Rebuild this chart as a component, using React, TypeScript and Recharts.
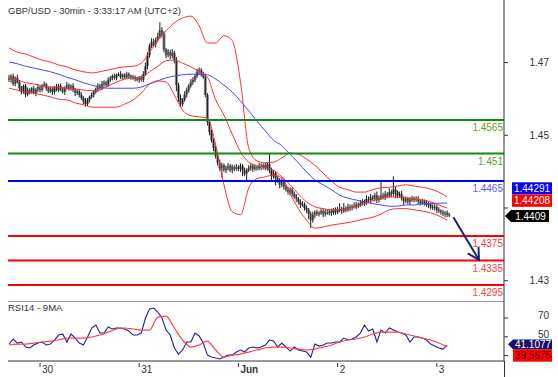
import React from 'react';
import { ComposedChart, Bar, Line, XAxis, YAxis, ReferenceLine } from 'recharts';

// ---------- DATA ----------
const firstOpen = 1.4634;
const closes = [
  1.4631, 1.4637, 1.4624, 1.4634, 1.4627, 1.4617, 1.4611, 1.4621, 1.4607, 1.4614,
  1.4611, 1.4617, 1.4609, 1.4614, 1.4619, 1.4614, 1.4621, 1.4624, 1.4617, 1.4612,
  1.4616, 1.4611, 1.4619, 1.4614, 1.4621, 1.4616, 1.4611, 1.4617, 1.4622, 1.4617,
  1.4621, 1.4614, 1.4609, 1.4612, 1.4606, 1.4601, 1.4596, 1.4591, 1.4598, 1.4603,
  1.4606, 1.4611, 1.4616, 1.4621, 1.4617, 1.4624, 1.4627, 1.4622, 1.4631, 1.4634,
  1.4637, 1.4634, 1.4639, 1.4640, 1.4635, 1.4639, 1.4635, 1.4640, 1.4637, 1.4634,
  1.4635, 1.4632, 1.4631, 1.4634, 1.4631, 1.4640, 1.4653, 1.4671, 1.4686, 1.4693,
  1.4689, 1.4696, 1.4702, 1.4712, 1.4706, 1.4680, 1.4671, 1.4676, 1.4670, 1.4675,
  1.4663, 1.4622, 1.4601, 1.4591, 1.4598, 1.4607, 1.4614, 1.4621, 1.4627, 1.4631,
  1.4637, 1.4644, 1.4647, 1.4640, 1.4635, 1.4606, 1.4562, 1.4545, 1.4532, 1.4519,
  1.4506, 1.4495, 1.4486, 1.4491, 1.4483, 1.4486, 1.4490, 1.4483, 1.4488, 1.4485,
  1.4488, 1.4485, 1.4490, 1.4483, 1.4477, 1.4483, 1.4486, 1.4490, 1.4485, 1.4488,
  1.4486, 1.4490, 1.4488, 1.4491, 1.4486, 1.4493, 1.4483, 1.4473, 1.4478, 1.4470,
  1.4467, 1.4459, 1.4464, 1.4456, 1.4451, 1.4447, 1.4451, 1.4444, 1.4439, 1.4436,
  1.4431, 1.4426, 1.4427, 1.4421, 1.4418, 1.4411, 1.4401, 1.4410, 1.4414, 1.4411,
  1.4413, 1.4416, 1.4411, 1.4414, 1.4413, 1.4416, 1.4413, 1.4418, 1.4414, 1.4418,
  1.4419, 1.4416, 1.4421, 1.4418, 1.4423, 1.4421, 1.4424, 1.4423, 1.4427, 1.4426,
  1.4429, 1.4432, 1.4429, 1.4436, 1.4434, 1.4439, 1.4436, 1.4442, 1.4434, 1.4437,
  1.4442, 1.4439, 1.4444, 1.4441, 1.4447, 1.4444, 1.4451, 1.4447, 1.4441, 1.4444,
  1.4437, 1.4432, 1.4436, 1.4431, 1.4434, 1.4437, 1.4434, 1.4436, 1.4432, 1.4429,
  1.4432, 1.4429, 1.4426, 1.4427, 1.4423, 1.4421, 1.4423, 1.4418, 1.4416, 1.4414,
  1.4411, 1.4413, 1.4410, 1.4409,
];
// wick lengths above / below the body, in pips
const upWick = [
  5, 3, 4, 2, 5, 3, 4, 2, 3, 4,
  3, 2, 4, 3, 5, 2, 3, 4, 2, 3,
  4, 3, 2, 5, 3, 4, 2, 3, 5, 3,
  2, 4, 3, 3, 2, 4, 3, 5, 3, 2,
  4, 3, 2, 4, 3, 5, 3, 2, 4, 3,
  3, 4, 2, 3, 5, 2, 3, 4, 3, 2,
  4, 3, 2, 3, 4, 5, 6, 5, 4, 6,
  5, 4, 6, 13, 5, 4, 3, 5, 4, 6,
  3, 5, 4, 6, 3, 5, 4, 3, 5, 4,
  3, 5, 4, 3, 4, 6, 3, 5, 4, 3,
  4, 3, 5, 4, 3, 4, 5, 3, 4, 3,
  5, 3, 4, 3, 4, 3, 5, 4, 3, 4,
  3, 5, 4, 3, 4, 3, 18, 4, 5, 3,
  4, 3, 5, 4, 3, 5, 4, 3, 4, 5,
  3, 4, 5, 3, 4, 3, 4, 5, 3, 4,
  3, 4, 3, 5, 4, 3, 4, 3, 4, 5,
  10, 4, 8, 3, 5, 4, 3, 6, 4, 3,
  5, 4, 3, 6, 4, 5, 3, 4, 6, 4,
  25, 4, 5, 3, 6, 4, 22, 5, 3, 4,
  5, 3, 4, 3, 5, 4, 3, 4, 5, 3,
  4, 3, 5, 4, 3, 4, 5, 3, 4, 3,
  4, 3, 4, 3,
];
const downWick = [
  4, 5, 3, 4, 2, 5, 4, 3, 5, 3,
  4, 3, 2, 5, 3, 4, 3, 2, 4, 3,
  3, 5, 4, 2, 3, 4, 3, 5, 2, 4,
  4, 3, 5, 3, 4, 3, 5, 4, 3, 4,
  3, 4, 3, 5, 3, 2, 4, 3, 3, 4,
  4, 3, 4, 2, 3, 4, 3, 2, 4, 3,
  3, 4, 3, 5, 3, 4, 3, 5, 4, 3,
  4, 5, 3, 4, 6, 4, 5, 3, 6, 4,
  5, 10, 6, 5, 4, 3, 5, 4, 3, 4,
  4, 3, 5, 4, 3, 4, 6, 5, 4, 5,
  4, 5, 4, 15, 3, 5, 4, 3, 5, 4,
  3, 4, 5, 10, 4, 13, 3, 4, 5, 3,
  4, 3, 5, 4, 3, 4, 5, 8, 4, 12,
  5, 6, 4, 5, 3, 4, 5, 4, 3, 5,
  4, 5, 3, 4, 5, 8, 13, 4, 5, 3,
  4, 3, 5, 4, 3, 4, 5, 3, 4, 3,
  4, 5, 3, 4, 3, 5, 4, 3, 4, 5,
  3, 4, 5, 3, 4, 5, 3, 4, 5, 4,
  3, 4, 5, 4, 3, 5, 4, 10, 4, 3,
  4, 6, 3, 4, 5, 3, 4, 3, 5, 4,
  3, 4, 3, 5, 4, 3, 4, 5, 3, 4,
  3, 5, 4, 3,
];

// indicator lines, one value every 4 bars
const bandStep = 4;
const bbUpper = [
  1.4683, 1.4676, 1.4673, 1.4668, 1.4663, 1.4660, 1.4655, 1.4652, 1.4647, 1.4644,
  1.4642, 1.4644, 1.4647, 1.4650, 1.4652, 1.4653, 1.4658, 1.4676, 1.4696, 1.4711,
  1.4724, 1.4732, 1.4735, 1.4719, 1.4691, 1.4691, 1.4703, 1.4695, 1.4627, 1.4519,
  1.4498, 1.4495, 1.4496, 1.4503, 1.4511, 1.4509, 1.4501, 1.4491, 1.4478, 1.4465,
  1.4455, 1.4451, 1.4447, 1.4447, 1.4451, 1.4454, 1.4455, 1.4457, 1.4459, 1.4457,
  1.4455, 1.4452, 1.4447, 1.4439,
];
const bbMiddle = [
  1.4634, 1.4631, 1.4626, 1.4624, 1.4621, 1.4619, 1.4619, 1.4617, 1.4616, 1.4614,
  1.4613, 1.4614, 1.4621, 1.4627, 1.4632, 1.4634, 1.4635, 1.4644, 1.4653, 1.4662,
  1.4663, 1.4658, 1.4652, 1.4644, 1.4635, 1.4598, 1.4573, 1.4542, 1.4513, 1.4496,
  1.4490, 1.4487, 1.4483, 1.4472, 1.4459, 1.4444, 1.4431, 1.4423, 1.4420, 1.4418,
  1.4418, 1.4420, 1.4423, 1.4428, 1.4433, 1.4437, 1.4439, 1.4439, 1.4437, 1.4436,
  1.4434, 1.4431, 1.4426, 1.4421,
];
const bbLower = [
  1.4617, 1.4614, 1.4611, 1.4609, 1.4606, 1.4603, 1.4599, 1.4598, 1.4593, 1.4590,
  1.4586, 1.4586, 1.4586, 1.4586, 1.4591, 1.4598, 1.4609, 1.4624, 1.4629, 1.4627,
  1.4606, 1.4581, 1.4572, 1.4570, 1.4568, 1.4524, 1.4459, 1.4415, 1.4410, 1.4454,
  1.4469, 1.4472, 1.4475, 1.4470, 1.4444, 1.4420, 1.4401, 1.4388, 1.4390, 1.4393,
  1.4395, 1.4397, 1.4400, 1.4403, 1.4406, 1.4411, 1.4418, 1.4420, 1.4420, 1.4418,
  1.4416, 1.4413, 1.4408, 1.4401,
];
const maBlue = [
  1.4660, 1.4657, 1.4653, 1.4650, 1.4647, 1.4644, 1.4640, 1.4635, 1.4631, 1.4626,
  1.4622, 1.4619, 1.4617, 1.4617, 1.4617, 1.4617, 1.4619, 1.4624, 1.4629, 1.4634,
  1.4637, 1.4639, 1.4640, 1.4640, 1.4639, 1.4632, 1.4622, 1.4611, 1.4596, 1.4580,
  1.4563, 1.4547, 1.4532, 1.4523, 1.4509, 1.4495, 1.4480, 1.4467, 1.4459, 1.4451,
  1.4442, 1.4437, 1.4434, 1.4431, 1.4428, 1.4426, 1.4424, 1.4424, 1.4426, 1.4426,
  1.4428, 1.4428, 1.4429, 1.4429,
];

// RSI(14) every 2 bars, its 9-period MA every 4 bars
const rsiStep = 2;
const rsi14 = [
  42.3, 47.7, 43.4, 44.5, 39.1, 38.1, 41.3, 43.4, 44.5, 41.3,
  42.3, 46.6, 51.9, 53.0, 44.5, 53.0, 48.7, 43.4, 41.3, 49.8,
  59.4, 62.6, 54.0, 54.0, 60.4, 58.3, 59.4, 59.4, 58.3, 56.2,
  51.9, 51.9, 54.0, 70.0, 79.6, 80.6, 76.4, 70.0, 57.2, 51.9,
  38.1, 31.7, 36.0, 44.5, 44.5, 54.0, 50.9, 43.4, 30.6, 28.5,
  27.4, 26.4, 28.5, 30.6, 30.6, 33.8, 36.0, 33.8, 38.1, 39.1,
  38.1, 39.1, 41.3, 46.6, 45.5, 39.1, 43.4, 39.1, 34.9, 39.1,
  36.0, 34.9, 33.8, 28.5, 42.3, 40.2, 41.3, 43.4, 43.4, 44.5,
  44.5, 48.7, 46.6, 47.7, 49.8, 54.0, 62.6, 56.2, 58.3, 44.5,
  57.2, 54.0, 59.4, 57.2, 55.1, 54.0, 51.9, 44.5, 49.8, 49.8,
  48.7, 46.6, 42.3, 40.2, 38.1, 37.0, 41.1077,
];
const rsiMaStep = 4;
const rsiMa9 = [
  41.3, 42.3, 42.3, 43.4, 44.5, 45.5, 46.6, 48.7, 48.7, 48.7,
  49.8, 51.9, 55.1, 58.3, 59.4, 58.3, 57.2, 57.2, 71.0, 72.0,
  59.4, 46.6, 39.1, 41.3, 45.5, 36.0, 28.5, 30.6, 31.7, 33.8,
  36.0, 38.1, 39.1, 39.1, 38.1, 37.0, 36.0, 37.0, 39.1, 41.3,
  44.5, 46.6, 47.7, 49.8, 53.0, 55.1, 55.1, 55.1, 53.0, 50.9,
  48.7, 46.6, 43.4, 39.5675,
];

// axes
const dayTicks = [15, 63, 111, 159, 207];
const dayLabels = ['30', '31', 'Jun', '2', '3'];
const priceTicks = [1.4302, 1.4421, 1.454, 1.4659];
const rsiTicks = [30, 50, 70];
// tick labels that sit behind the value tags (not visible in the original)
const coveredTicks = [1.4421, 30];
const priceDomain = [1.42688, 1.47614];
const rsiDomain = [24.3, 88.1];
const slotDomain = [-0.5, 239.5];

// levels
const levelValues = [1.4565, 1.451, 1.4465, 1.4375, 1.4335, 1.4295];
const levelKinds = ['res', 'res', 'pivot', 'sup', 'sup', 'sup'];
const levelLineColor: Record<string, string> = { res: '#108a10', pivot: '#0000ff', sup: '#ff0000' };
const levelTextColor: Record<string, string> = { res: '#5f9e25', pivot: '#5a5aff', sup: '#ff3c3c' };

// last values shown in tags
const lastClose = 1.4409;
const tagMa = '1.44291';
const tagMid = '1.44208';
const tagLast = '1.4409';
const rsiLast = 41.1077;
const tagRsi = '41.1077';
const tagRsiMa = '39.5675';

// forecast arrow
const arrowFrom = { x: 215, y: 1.4406 };
const arrowTo = { x: 227.4, y: 1.4336 };

// ---------- BUILD ----------
const PIP = 0.0001;
const candles = closes.map((c, i) => {
  const o = i === 0 ? firstOpen : closes[i - 1];
  return {
    i,
    open: o,
    close: c,
    high: Math.max(o, c) + upWick[i] * PIP,
    low: Math.min(o, c) - downWick[i] * PIP,
  };
});
const series = (arr: number[], step: number) => arr.map((v, k) => ({ i: k * step, v }));

const FONT = 'Liberation Sans, Arial, sans-serif';

const Candle = (props: any) => {
  const { x, y, width, height, payload } = props;
  if (!payload || x == null) return null;
  const { open, close, high, low } = payload;
  const span = high - low || 1e-9;
  const h = Math.abs(height);
  const top = height < 0 ? y + height : y;
  const py = (v: number) => top + ((high - v) / span) * h;
  const cx = x + width / 2;
  const bTop = py(Math.max(open, close));
  const bBot = py(Math.min(open, close));
  return (
    <g>
      <rect x={x - 0.5} y={bTop} width={width + 1} height={Math.max(1, bBot - bTop)} fill="#8e8e8e" />
      <line x1={cx} x2={cx} y1={top} y2={top + h} stroke="#1a1a1a" strokeWidth={1} />
    </g>
  );
};

const isCovered = (v: number) => coveredTicks.some((c) => Math.abs(c - v) < 1e-9);

const PriceTick = (props: any) => {
  const { x, y, payload } = props;
  if (isCovered(Number(payload.value))) return <g />;
  return (
    <text x={x + 41} y={y} dy={3.5} textAnchor="end" fontSize={10} fill="#333" fontFamily={FONT}>
      {Number(payload.value).toFixed(2)}
    </text>
  );
};

const RsiTick = (props: any) => {
  const { x, y, payload } = props;
  if (isCovered(Number(payload.value))) return <g />;
  return (
    <text x={x + 41} y={y} dy={0.8} textAnchor="end" fontSize={10} fill="#333" fontFamily={FONT}>
      {payload.value}
    </text>
  );
};

const DayTick = (props: any) => {
  const { x, y, payload } = props;
  const lbl = dayLabels[dayTicks.indexOf(payload.value)];
  return (
    <g>
      <line x1={x} x2={x} y1={y + 2} y2={y + 6} stroke="#333" />
      <text x={x + 2} y={y + 12} fontSize={10} fill="#333" fontFamily={FONT} fontWeight={lbl === 'Jun' ? 'bold' : 'normal'}>
        {lbl}
      </text>
    </g>
  );
};

const levelLabel = (value: number, color: string) => (p: any) => {
  const vb = p.viewBox || {};
  return (
    <text x={vb.x + vb.width - 1} y={vb.y + 11} textAnchor="end" fontSize={10} fill={color} fontFamily={FONT}>
      {String(value)}
    </text>
  );
};

const PriceTags = (p: any) => {
  const vb = p.viewBox || {};
  const ax = vb.x + vb.width;
  const yc = vb.y;
  return (
    <g fontFamily={FONT} fontSize={10}>
      <rect x={ax + 8} y={yc - 33} width={40} height={12} fill="#0000ff" />
      <text x={ax + 28} y={yc - 23.5} textAnchor="middle" fill="#fff">{tagMa}</text>
      <rect x={ax + 8} y={yc - 21} width={40} height={12.5} fill="#ff0000" />
      <text x={ax + 28} y={yc - 11.3} textAnchor="middle" fill="#fff">{tagMid}</text>
      <polygon
        points={`${ax + 1},${yc + 0.7} ${ax + 7},${yc - 5.3} ${ax + 45},${yc - 5.3} ${ax + 45},${yc + 6.7} ${ax + 7},${yc + 6.7}`}
        fill="#000"
      />
      <text x={ax + 26.5} y={yc + 4.3} textAnchor="middle" fill="#fff">{tagLast}</text>
    </g>
  );
};

const RsiTags = (p: any) => {
  const vb = p.viewBox || {};
  const ax = vb.x + vb.width;
  const yc = vb.y;
  return (
    <g fontFamily={FONT} fontSize={10}>
      <polygon
        points={`${ax + 4},${yc - 1} ${ax + 9},${yc - 5.6} ${ax + 48},${yc - 5.6} ${ax + 48},${yc + 4} ${ax + 9},${yc + 4}`}
        fill="#12126e"
      />
      <text x={ax + 29} y={yc + 2.8} textAnchor="middle" fill="#fff">{tagRsi}</text>
      <rect x={ax + 9} y={yc + 4} width={39} height={12.5} fill="#ff0000" />
      <text x={ax + 29} y={yc + 14} textAnchor="middle" fill="#5a0000">{tagRsiMa}</text>
    </g>
  );
};

const Arrow = (p: any) => {
  const { x1, y1, x2, y2 } = p;
  if (x1 == null) return null;
  const ang = Math.atan2(y2 - y1, x2 - x1);
  const L = 13;
  const a = 0.5;
  const bx1 = x2 - L * Math.cos(ang - a);
  const by1 = y2 - L * Math.sin(ang - a);
  const bx2 = x2 - L * Math.cos(ang + a);
  const by2 = y2 - L * Math.sin(ang + a);
  return (
    <g>
      <line x1={x1} y1={y1} x2={x2} y2={y2} stroke="#1b2470" strokeWidth={2} />
      <polyline points={`${bx1},${by1} ${x2},${y2} ${bx2},${by2}`} fill="none" stroke="#1b2470" strokeWidth={2} />
    </g>
  );
};

export default function App() {
  return (
    <div style={{ position: 'absolute', left: 0, top: 0, width: 558, height: 377, background: '#fff', overflow: 'hidden' }}>
      <div style={{ position: 'absolute', left: 0, top: 0 }}>
        <ComposedChart width={558} height={301} data={candles} margin={{ top: 0, right: 0, bottom: 0, left: 8 }}>
          <XAxis type="number" dataKey="i" domain={slotDomain} allowDataOverflow hide ticks={dayTicks} />
          <YAxis
            orientation="right"
            type="number"
            domain={priceDomain}
            allowDataOverflow
            ticks={priceTicks}
            interval={0}
            width={54}
            tickSize={4}
            tickMargin={0}
            tick={PriceTick}
            tickLine={{ stroke: '#333' }}
            axisLine={{ stroke: '#333' }}
          />
          <Bar dataKey={(d: any) => [d.low, d.high]} barSize={2} shape={Candle} isAnimationActive={false} />
          <Line data={series(maBlue, bandStep)} dataKey="v" type="monotone" stroke="#3c4cff" strokeWidth={1} dot={false} isAnimationActive={false} />
          <Line data={series(bbUpper, bandStep)} dataKey="v" type="monotone" stroke="#ff2f2f" strokeWidth={1} dot={false} isAnimationActive={false} />
          <Line data={series(bbMiddle, bandStep)} dataKey="v" type="monotone" stroke="#ff2f2f" strokeWidth={1} dot={false} isAnimationActive={false} />
          <Line data={series(bbLower, bandStep)} dataKey="v" type="monotone" stroke="#ff2f2f" strokeWidth={1} dot={false} isAnimationActive={false} />
          {levelValues.map((v, k) => (
            <ReferenceLine
              key={v}
              y={v}
              stroke={levelLineColor[levelKinds[k]]}
              strokeWidth={2}
              label={levelLabel(v, levelTextColor[levelKinds[k]])}
            />
          ))}
          <ReferenceLine segment={[arrowFrom, arrowTo]} shape={Arrow} />
          <ReferenceLine y={lastClose} stroke="none" strokeOpacity={0} label={PriceTags} />
        </ComposedChart>
      </div>
      <div style={{ position: 'absolute', left: 0, top: 301 }}>
        <ComposedChart width={558} height={76} margin={{ top: 0, right: 0, bottom: 0, left: 8 }}>
          <XAxis
            type="number"
            dataKey="i"
            domain={slotDomain}
            allowDataOverflow
            ticks={dayTicks}
            interval={0}
            height={16}
            tickSize={0}
            tickMargin={0}
            tickLine={false}
            tick={DayTick}
            axisLine={{ stroke: '#333' }}
          />
          <YAxis
            orientation="right"
            type="number"
            domain={rsiDomain}
            allowDataOverflow
            ticks={rsiTicks}
            interval={0}
            width={54}
            tickSize={4}
            tickMargin={0}
            tick={RsiTick}
            tickLine={{ stroke: '#333' }}
            axisLine={{ stroke: '#333' }}
          />
          <ReferenceLine y={rsiDomain[1]} stroke="#444" />
          <Line data={series(rsi14, rsiStep)} dataKey="v" type="linear" stroke="#22228c" strokeWidth={1.1} dot={false} isAnimationActive={false} />
          <Line data={series(rsiMa9, rsiMaStep)} dataKey="v" type="monotone" stroke="#ff4444" strokeWidth={1.2} dot={false} isAnimationActive={false} />
          <ReferenceLine y={rsiLast} stroke="none" strokeOpacity={0} label={RsiTags} />
        </ComposedChart>
      </div>
      <div style={{ position: 'absolute', left: 503.5, top: 361, width: 1, height: 16, background: '#333' }} />
      <svg style={{ position: 'absolute', left: 0, top: 0, pointerEvents: 'none' }} width={558} height={377}>
        <text x={8} y={13.5} fontSize={9.5} fill="#333" fontFamily={FONT}>GBP/USD - 30min - 3:33:17 AM (UTC+2)</text>
        <text x={8} y={310.5} fontSize={9.5} fill="#333" fontFamily={FONT}>RSI14 - 9MA</text>
      </svg>
    </div>
  );
}
